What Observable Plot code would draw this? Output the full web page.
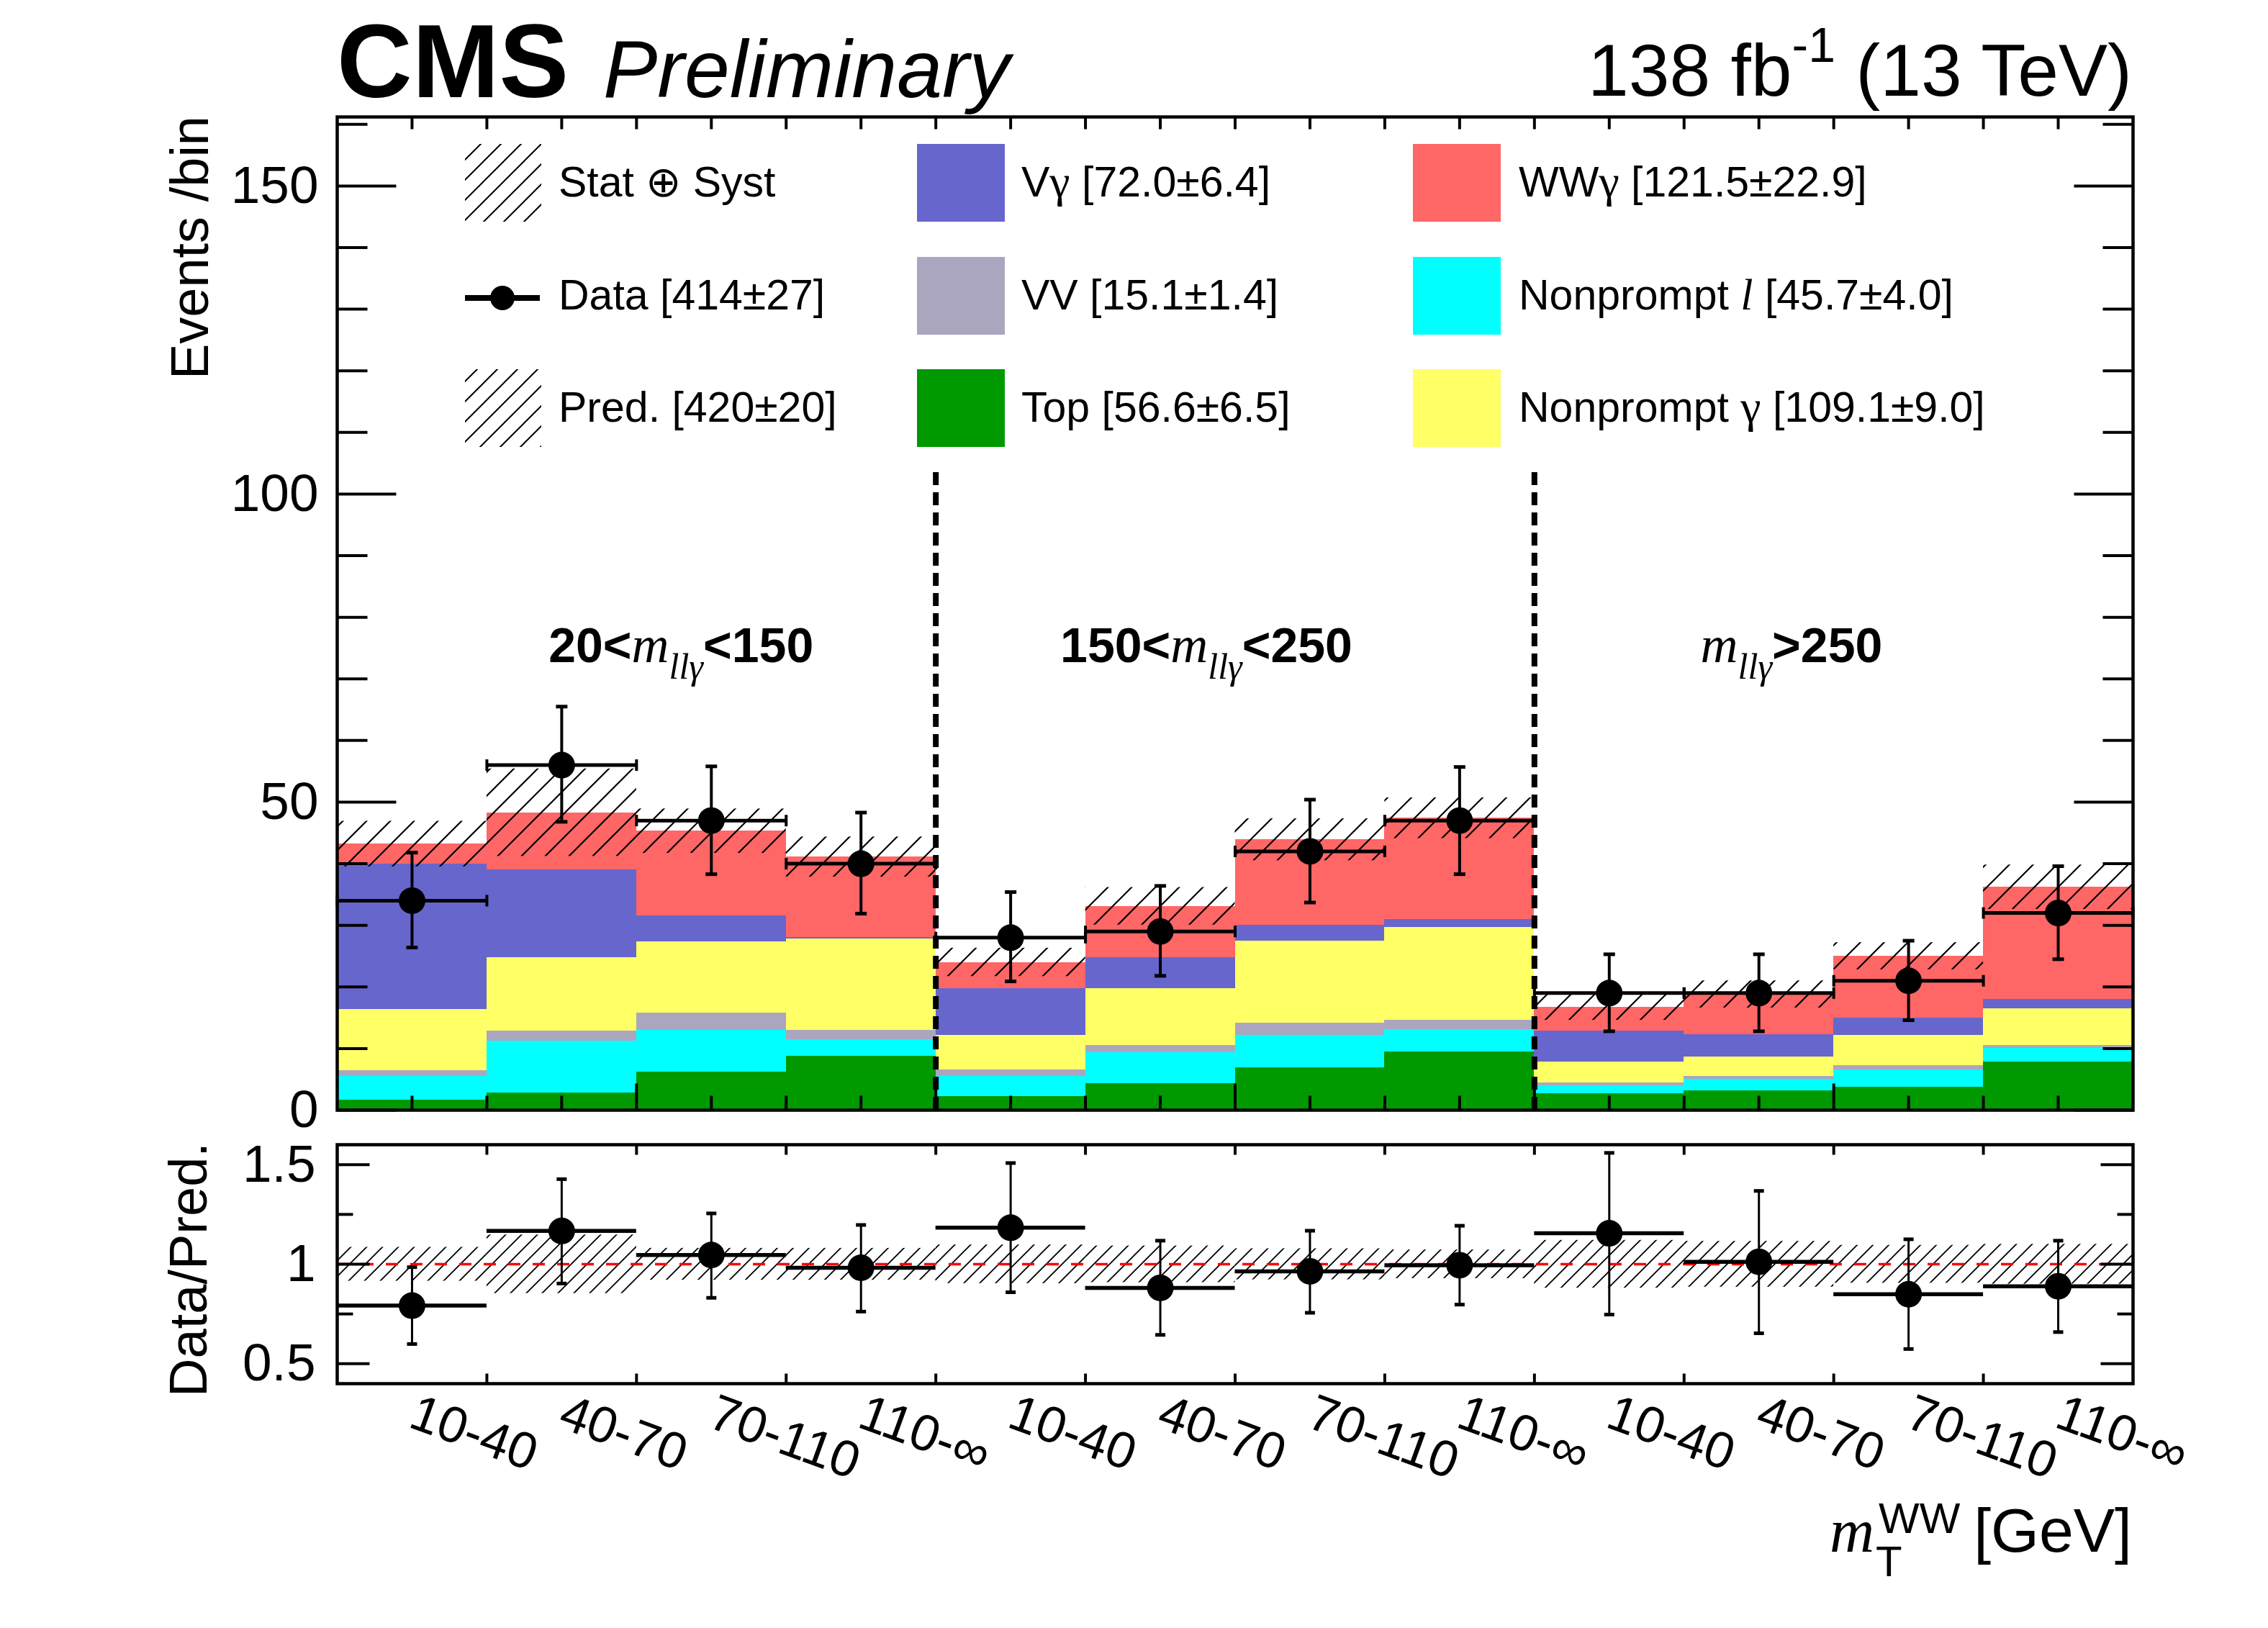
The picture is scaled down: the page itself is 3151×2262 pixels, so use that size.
<!DOCTYPE html>
<html><head><meta charset="utf-8">
<script src="https://cdn.jsdelivr.net/npm/d3@7"></script>
<script src="https://cdn.jsdelivr.net/npm/@observablehq/plot@0.6"></script>
<style>
html,body{margin:0;padding:0;background:#fff;}
#wrap{position:relative;width:3151px;height:2262px;overflow:hidden;background:#fff;}
</style></head><body>
<svg width="0" height="0" style="position:absolute">
<defs>
<pattern id="hatchMain" patternUnits="userSpaceOnUse" width="33" height="33">
  <path d="M-5,5 L5,-5 M0,33 L33,0 M28,38 L38,28" stroke="black" stroke-width="2.2" fill="none"/>
</pattern>
<pattern id="hatchRatio" patternUnits="userSpaceOnUse" width="22" height="22">
  <path d="M-4,4 L4,-4 M0,22 L22,0 M18,26 L26,18" stroke="black" stroke-width="1.8" fill="none"/>
</pattern>
<pattern id="hatchLegend" patternUnits="userSpaceOnUse" width="28" height="28">
  <path d="M-4,4 L4,-4 M0,28 L28,0 M24,32 L32,24" stroke="black" stroke-width="2" fill="none"/>
</pattern>
</defs></svg>
<div id="wrap"></div>
<script>
// ---------------- data ----------------
const binIndex = [0,1,2,3,4,5,6,7,8,9,10,11];
const mtLabels = ["10-40","40-70","70-110","110-\u221e","10-40","40-70","70-110","110-\u221e","10-40","40-70","70-110","110-\u221e"];

// stack order bottom -> top
const processNames  = ["Top", "Nonprompt l", "VV", "Nonprompt \u03b3", "V\u03b3", "WW\u03b3"];
const processColors = ["#009900", "#00ffff", "#aaa6c0", "#ffff66", "#6766cc", "#ff6666"];

const yieldTop = [1.6, 2.8, 6.2, 8.8, 2.2, 4.3, 6.9, 9.5, 2.7, 3.1, 3.7, 7.8];
const yieldNPl = [3.9, 8.4, 6.8, 2.6, 3.3, 5.1, 5.2, 3.6, 1.3, 1.9, 2.8, 2.2];
const yieldVV  = [0.9, 1.6, 2.8, 1.6, 1.0, 1.1, 2.0, 1.5, 0.4, 0.5, 0.7, 0.5];
const yieldNPg = [10.0, 12.0, 11.5, 14.8, 5.6, 9.2, 13.4, 15.1, 3.4, 3.2, 5.0, 6.0];
const yieldVg  = [23.5, 14.2, 4.2, 0.2, 7.6, 5.1, 2.5, 1.3, 5.0, 3.6, 2.8, 1.5];
const yieldWWg = [3.3, 9.3, 13.8, 13.1, 4.3, 8.3, 13.9, 16.4, 3.9, 6.5, 10.0, 18.2];

const predUnc  = [3.7, 7.1, 3.6, 3.25, 2.3, 3.05, 3.4, 3.3, 2.1, 2.2, 2.2, 3.6];

const dataVal  = [34, 56, 47, 40, 28, 29, 42, 47, 19, 19, 21, 32];
const dataHi   = [41.8, 65.5, 55.8, 48.3, 35.4, 36.4, 50.4, 55.7, 25.3, 25.3, 27.5, 39.6];
const dataLo   = [26.4, 46.8, 38.3, 31.9, 20.9, 21.8, 33.7, 38.3, 12.8, 12.8, 14.6, 24.5];

const ratioVal = [0.792, 1.167, 1.046, 0.982, 1.183, 0.881, 0.964, 0.995, 1.155, 1.012, 0.849, 0.889];
const ratioHi  = [0.985, 1.427, 1.255, 1.197, 1.508, 1.118, 1.168, 1.193, 1.559, 1.368, 1.125, 1.118];
const ratioLo  = [0.599, 0.903, 0.831, 0.762, 0.859, 0.645, 0.756, 0.797, 0.747, 0.653, 0.574, 0.659];
const ratioUnc = [0.085, 0.147, 0.080, 0.080, 0.097, 0.092, 0.078, 0.072, 0.120, 0.115, 0.095, 0.100];

const separatorX = [4, 8];
const separatorTop = 104;

const yMajor = [0, 50, 100, 150];
const yMinor = [10, 20, 30, 40, 60, 70, 80, 90, 110, 120, 130, 140, 160];
const rMajor = [0.5, 1, 1.5];
const rMinor = [0.75, 1.25];
const rTickLabels = ["0.5", "1", "1.5"];

const regionX = [2.30, 5.81, 9.72];
const regionY = 72.7;
const regionPre  = ["20<", "150<", ""];
const regionPost = ["<150", "<250", ">250"];

// "|x|" marks a serif italic run, "{x}" a serif upright run
const legendText = [
  ["Stat \u2295 Syst", "Data [414\u00b127]", "Pred. [420\u00b120]"],
  ["V{\u03b3} [72.0\u00b16.4]", "VV [15.1\u00b11.4]", "Top [56.6\u00b16.5]"],
  ["WW{\u03b3} [121.5\u00b122.9]", "Nonprompt |l| [45.7\u00b14.0]", "Nonprompt {\u03b3} [109.1\u00b19.0]"]
];
const legendSwatch = [
  ["hatch", "data", "hatch"],
  ["V\u03b3", "VV", "Top"],
  ["WW\u03b3", "Nonprompt l", "Nonprompt \u03b3"]
];

// ---------------- tables ----------------
const yields = [yieldTop, yieldNPl, yieldVV, yieldNPg, yieldVg, yieldWWg];
const stackRows = [];
const totals = [];
binIndex.forEach(b => {
  let c = 0;
  yields.forEach((arr, p) => { stackRows.push({b, process: processNames[p], y1: c, y2: c + arr[b]}); c += arr[b]; });
  totals.push(c);
});
const bandRows = binIndex.map(b => ({b, lo: totals[b] - predUnc[b], hi: totals[b] + predUnc[b]}));
const dataRows = binIndex.map(b => ({x1: b, x2: b + 1, xc: b + 0.5, v: dataVal[b], lo: dataLo[b], hi: dataHi[b]}));
const ratioRows = binIndex.map(b => ({x1: b, x2: b + 1, xc: b + 0.5, v: ratioVal[b], lo: ratioLo[b], hi: ratioHi[b], blo: 1 - ratioUnc[b], bhi: 1 + ratioUnc[b]}));
const labelRows = binIndex.map(b => ({xc: b + 0.5, label: mtLabels[b]}));

// ---------------- helpers ----------------
const seg = (x1, y1, x2, y2) => ({draw(ctx) { ctx.moveTo(x1, y1); ctx.lineTo(x2, y2); }});
const SANS = "'Liberation Sans', Arial, Helvetica, sans-serif";
const SERIF = "'Liberation Serif', 'Times New Roman', serif";
const baseStyle = {background: "transparent", fontFamily: SANS, fontSize: "73px", color: "black", overflow: "visible"};
const tk = (data, opts) => Plot.dot(data, {fill: "none", stroke: "black", strokeWidth: 4, ...opts});

function el(tag, attrs, parent) {
  const e = document.createElementNS("http://www.w3.org/2000/svg", tag);
  if (tag === "text" && !("text-anchor" in attrs)) e.setAttribute("text-anchor", "start");
  for (const k in attrs) e.setAttribute(k, attrs[k]);
  if (parent) parent.appendChild(e);
  return e;
}
function tspan(parent, txt, attrs) { const t = el("tspan", attrs || {}, parent); t.textContent = txt; return t; }

// ---------------- main panel ----------------
const W = 3151;
const mainPlot = Plot.plot({
  width: W, height: 1560,
  marginLeft: 468, marginRight: 188, marginTop: 162, marginBottom: 18,
  style: baseStyle,
  x: {domain: [0, 12], axis: null},
  y: {domain: [0, 161.2], axis: null},
  color: {domain: processNames, range: processColors},
  marks: [
    Plot.rect(stackRows, {x1: "b", x2: d => d.b + 1, y1: "y1", y2: "y2", fill: "process", shapeRendering: "crispEdges"}),
    Plot.rect(bandRows, {x1: "b", x2: d => d.b + 1, y1: "lo", y2: "hi", fill: "url(#hatchMain)"}),
    Plot.ruleX(separatorX, {x: d => d, y1: 0, y2: separatorTop, stroke: "black", strokeWidth: 8, strokeDasharray: "18,10"}),
    Plot.ruleX(dataRows, {x: "xc", y1: "lo", y2: "hi", stroke: "black", strokeWidth: 4}),
    tk(dataRows, {x: "xc", y: "hi", symbol: seg(-8, 0, 8, 0), strokeWidth: 5}),
    tk(dataRows, {x: "xc", y: "lo", symbol: seg(-8, 0, 8, 0), strokeWidth: 5}),
    Plot.ruleY(dataRows, {y: "v", x1: "x1", x2: "x2", stroke: "black", strokeWidth: 5}),
    tk(dataRows, {x: "x1", y: "v", symbol: seg(0, -8, 0, 8)}),
    tk(dataRows, {x: "x2", y: "v", symbol: seg(0, -8, 0, 8)}),
    Plot.dot(dataRows, {x: "xc", y: "v", r: 18.5, fill: "black", stroke: "none"}),
    Plot.frame({stroke: "black", strokeWidth: 4.5}),
    // ticks
    tk(yMajor, {y: d => d, frameAnchor: "left", symbol: seg(0, 0, 82, 0)}),
    tk(yMinor, {y: d => d, frameAnchor: "left", symbol: seg(0, 0, 42, 0)}),
    tk(yMajor, {y: d => d, frameAnchor: "right", symbol: seg(0, 0, -82, 0)}),
    tk(yMinor, {y: d => d, frameAnchor: "right", symbol: seg(0, 0, -42, 0)}),
    tk(d3.range(2, 12, 2), {x: d => d, frameAnchor: "bottom", symbol: seg(0, 0, 0, -37)}),
    tk(d3.range(0.5, 12, 0.5).filter(v => v % 2 !== 0), {x: d => d, frameAnchor: "bottom", symbol: seg(0, 0, 0, -20)}),
    tk(d3.range(0.5, 12, 0.5), {x: d => d, frameAnchor: "top", symbol: seg(0, 0, 0, 17)}),
    Plot.text(yMajor, {y: d => d, text: d => String(d), frameAnchor: "left", textAnchor: "end", dx: -26, fontSize: 73})
  ]
});
mainPlot.style.position = "absolute"; mainPlot.style.left = "0px"; mainPlot.style.top = "0px";
document.getElementById("wrap").appendChild(mainPlot);

// region labels through the plot's scales
const sx = mainPlot.scale("x"), sy = mainPlot.scale("y");
regionX.forEach((xv, i) => {
  const t = el("text", {x: sx.apply(xv), y: sy.apply(regionY), "text-anchor": "middle", "font-family": SANS, "font-size": 68, "font-weight": "bold", fill: "black"}, mainPlot);
  if (regionPre[i]) tspan(t, regionPre[i]);
  tspan(t, "m", {"font-family": SERIF, "font-style": "italic", "font-weight": "normal", "font-size": 72});
  tspan(t, "ll\u03b3", {"font-family": SERIF, "font-style": "italic", "font-weight": "normal", "font-size": 50, dy: 23});
  tspan(t, regionPost[i], {dy: -23});
});

// header
{
  const t1 = el("text", {x: 468, y: 135, "font-family": SANS, "font-weight": "bold", "font-size": 145, fill: "black"}, mainPlot);
  t1.textContent = "CMS";
  const t2 = el("text", {x: 838, y: 135, "font-family": SANS, "font-style": "italic", "font-size": 113, fill: "black"}, mainPlot);
  t2.textContent = "Preliminary";
  const t3 = el("text", {x: 2962, y: 133, "text-anchor": "end", "font-family": SANS, "font-size": 102, fill: "black"}, mainPlot);
  tspan(t3, "138 fb");
  tspan(t3, "-1", {"font-size": 68, dy: -47});
  tspan(t3, " (13 TeV)", {dy: 47});
  const t4 = el("text", {x: 289, y: 161, "text-anchor": "end", transform: "rotate(-90 289 161)", "font-family": SANS, "font-size": 74, fill: "black"}, mainPlot);
  t4.textContent = "Events /bin";
}

// legend
{
  const colSwX = [646, 1274, 1963];
  const colTxX = [776, 1419, 2110];
  const rowTop = [200, 357, 513];
  const swH = 108;
  const colorOf = Object.fromEntries(processNames.map((n, i) => [n, processColors[i]]));
  for (let c = 0; c < 3; c++) for (let r = 0; r < 3; r++) {
    const kind = legendSwatch[c][r];
    const cy = rowTop[r] + swH / 2;
    if (kind === "hatch") {
      el("rect", {x: colSwX[c], y: rowTop[r], width: 106, height: swH, fill: "url(#hatchLegend)"}, mainPlot);
    } else if (kind === "data") {
      el("line", {x1: colSwX[c], x2: colSwX[c] + 104, y1: cy + 3, y2: cy + 3, stroke: "black", "stroke-width": 8}, mainPlot);
      el("circle", {cx: colSwX[c] + 52, cy: cy + 3, r: 17, fill: "black"}, mainPlot);
    } else {
      el("rect", {x: colSwX[c], y: rowTop[r], width: 122, height: swH, fill: colorOf[kind]}, mainPlot);
    }
    const t = el("text", {x: colTxX[c], y: cy + 19, "font-family": SANS, "font-size": 59, fill: "black"}, mainPlot);
    const parts = legendText[c][r].split(/(\|[^|]*\||\{[^}]*\})/).filter(s => s.length);
    parts.forEach(p => {
      if (p.startsWith("|")) tspan(t, p.slice(1, -1), {"font-family": SERIF, "font-style": "italic", "font-size": 62});
      else if (p.startsWith("{")) tspan(t, p.slice(1, -1), {"font-family": SERIF, "font-size": 64});
      else tspan(t, p);
    });
  }
}

// ---------------- ratio panel ----------------
const ratioPlot = Plot.plot({
  width: W, height: 702,
  marginLeft: 468, marginRight: 188, marginTop: 30, marginBottom: 340,
  style: baseStyle,
  x: {domain: [0, 12], axis: null},
  y: {domain: [0.4, 1.6], axis: null},
  marks: [
    Plot.rect(ratioRows, {x1: "x1", x2: "x2", y1: "blo", y2: "bhi", fill: "url(#hatchRatio)"}),
    Plot.ruleY([1], {stroke: "#ff0000", strokeWidth: 3.5, strokeDasharray: "17,17"}),
    Plot.ruleX(ratioRows, {x: "xc", y1: "lo", y2: "hi", stroke: "black", strokeWidth: 3}),
    tk(ratioRows, {x: "xc", y: "hi", symbol: seg(-7, 0, 7, 0), strokeWidth: 5}),
    tk(ratioRows, {x: "xc", y: "lo", symbol: seg(-7, 0, 7, 0), strokeWidth: 5}),
    Plot.ruleY(ratioRows, {y: "v", x1: "x1", x2: "x2", stroke: "black", strokeWidth: 5.5}),
    Plot.dot(ratioRows, {x: "xc", y: "v", r: 18.5, fill: "black", stroke: "none"}),
    Plot.frame({stroke: "black", strokeWidth: 4.5}),
    tk(rMajor, {y: d => d, frameAnchor: "left", symbol: seg(0, 0, 45, 0)}),
    tk(rMinor, {y: d => d, frameAnchor: "left", symbol: seg(0, 0, 22, 0)}),
    tk(rMajor, {y: d => d, frameAnchor: "right", symbol: seg(0, 0, -45, 0)}),
    tk(rMinor, {y: d => d, frameAnchor: "right", symbol: seg(0, 0, -22, 0)}),
    tk(d3.range(1, 12), {x: d => d, frameAnchor: "bottom", symbol: seg(0, 0, 0, -14)}),
    tk(d3.range(1, 12), {x: d => d, frameAnchor: "top", symbol: seg(0, 0, 0, 14)}),
    Plot.text(rMajor, {y: d => d, text: (d, i) => rTickLabels[i], frameAnchor: "left", textAnchor: "end", dx: -30, fontSize: 73}),
    Plot.text(labelRows, {x: "xc", text: "label", frameAnchor: "bottom", rotate: 20, textAnchor: "start", lineAnchor: "top", dx: 10, dy: 12, fontSize: 71})
  ]
});
ratioPlot.style.position = "absolute"; ratioPlot.style.left = "0px"; ratioPlot.style.top = "1560px";
document.getElementById("wrap").appendChild(ratioPlot);

{
  const off = 1560;
  const t1 = el("text", {x: 287, y: 1764 - off, "text-anchor": "middle", transform: `rotate(-90 287 ${1764 - off})`, "font-family": SANS, "font-size": 74, fill: "black"}, ratioPlot);
  t1.textContent = "Data/Pred.";
  const m = el("text", {x: 2542, y: 2156 - off, "font-family": SERIF, "font-style": "italic", "font-size": 86, fill: "black"}, ratioPlot);
  m.textContent = "m";
  const sub = el("text", {x: 2606, y: 2190 - off, "font-family": SANS, "font-size": 60, fill: "black"}, ratioPlot);
  sub.textContent = "T";
  const sup = el("text", {x: 2610, y: 2130 - off, "font-family": SANS, "font-size": 60, fill: "black"}, ratioPlot);
  sup.textContent = "WW";
  const g = el("text", {x: 2962, y: 2156 - off, "text-anchor": "end", "font-family": SANS, "font-size": 86, fill: "black"}, ratioPlot);
  g.textContent = "[GeV]";
}
</script>
</body></html>
